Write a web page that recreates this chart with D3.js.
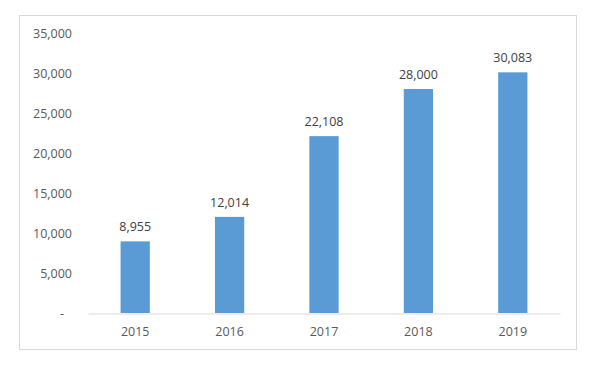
<!DOCTYPE html>
<html><head><meta charset="utf-8">
<script src="https://cdn.jsdelivr.net/npm/d3@7"></script>
<style>body{margin:0;background:#fff}svg{display:block}</style>
</head><body>
<svg id="c" width="600" height="368"></svg>
<script>
const categories = ["2015","2016","2017","2018","2019"];
const values = [8955, 12014, 22108, 28000, 30083];
const yTicks = [0, 5000, 10000, 15000, 20000, 25000, 30000, 35000];

const svg = d3.select("#c");
const font = "'Open Sans', sans-serif";
const textColor = "#595959";

svg.append("rect").attr("x",19.5).attr("y",15.5).attr("width",557).attr("height",334)
  .attr("fill","#fff").attr("stroke","#d9d9d9").attr("stroke-width",1);

const x = d3.scaleBand().domain(categories).range([88,560]).paddingInner(0.69).paddingOuter(0.345);
const y = d3.scaleLinear().domain([0,35000]).range([313,33]);

const fmt = d3.format(",");

// y axis labels
const yAxis = d3.axisLeft(y).tickValues(yTicks).tickSize(0).tickPadding(0)
  .tickFormat(d => d === 0 ? "-" : fmt(d));
const gy = svg.append("g").attr("transform","translate(72,0)").call(yAxis);
gy.select(".domain").remove();
gy.selectAll("text").attr("font-family",font).attr("font-size",12.5).attr("fill",textColor)
  .attr("text-anchor","end");
gy.selectAll(".tick").filter(d=>d===0).select("text").attr("dx",-8);

// bars
svg.selectAll("rect.bar").data(values).join("rect").attr("class","bar")
  .attr("x",(d,i)=>x(categories[i])).attr("width",x.bandwidth())
  .attr("y",d=>y(d)).attr("height",d=>y(0)-y(d)).attr("fill","#5b9bd5");

// x axis
const xAxis = d3.axisBottom(x).tickSize(0).tickPadding(14);
const gx = svg.append("g").attr("transform",`translate(0,${y(0)+0.5})`).call(xAxis);
gx.select(".domain").attr("stroke","#d9d9d9").attr("stroke-width",1.2);
gx.selectAll("text").attr("font-family",font).attr("font-size",12.5).attr("fill",textColor);

// value labels
svg.selectAll("text.val").data(values).join("text").attr("class","val")
  .attr("x",(d,i)=>x(categories[i])+x.bandwidth()/2).attr("y",d=>y(d)-10)
  .attr("text-anchor","middle").attr("font-family",font).attr("font-size",12.5).attr("fill","#404040")
  .text(d=>fmt(d));
</script>
</body></html>
